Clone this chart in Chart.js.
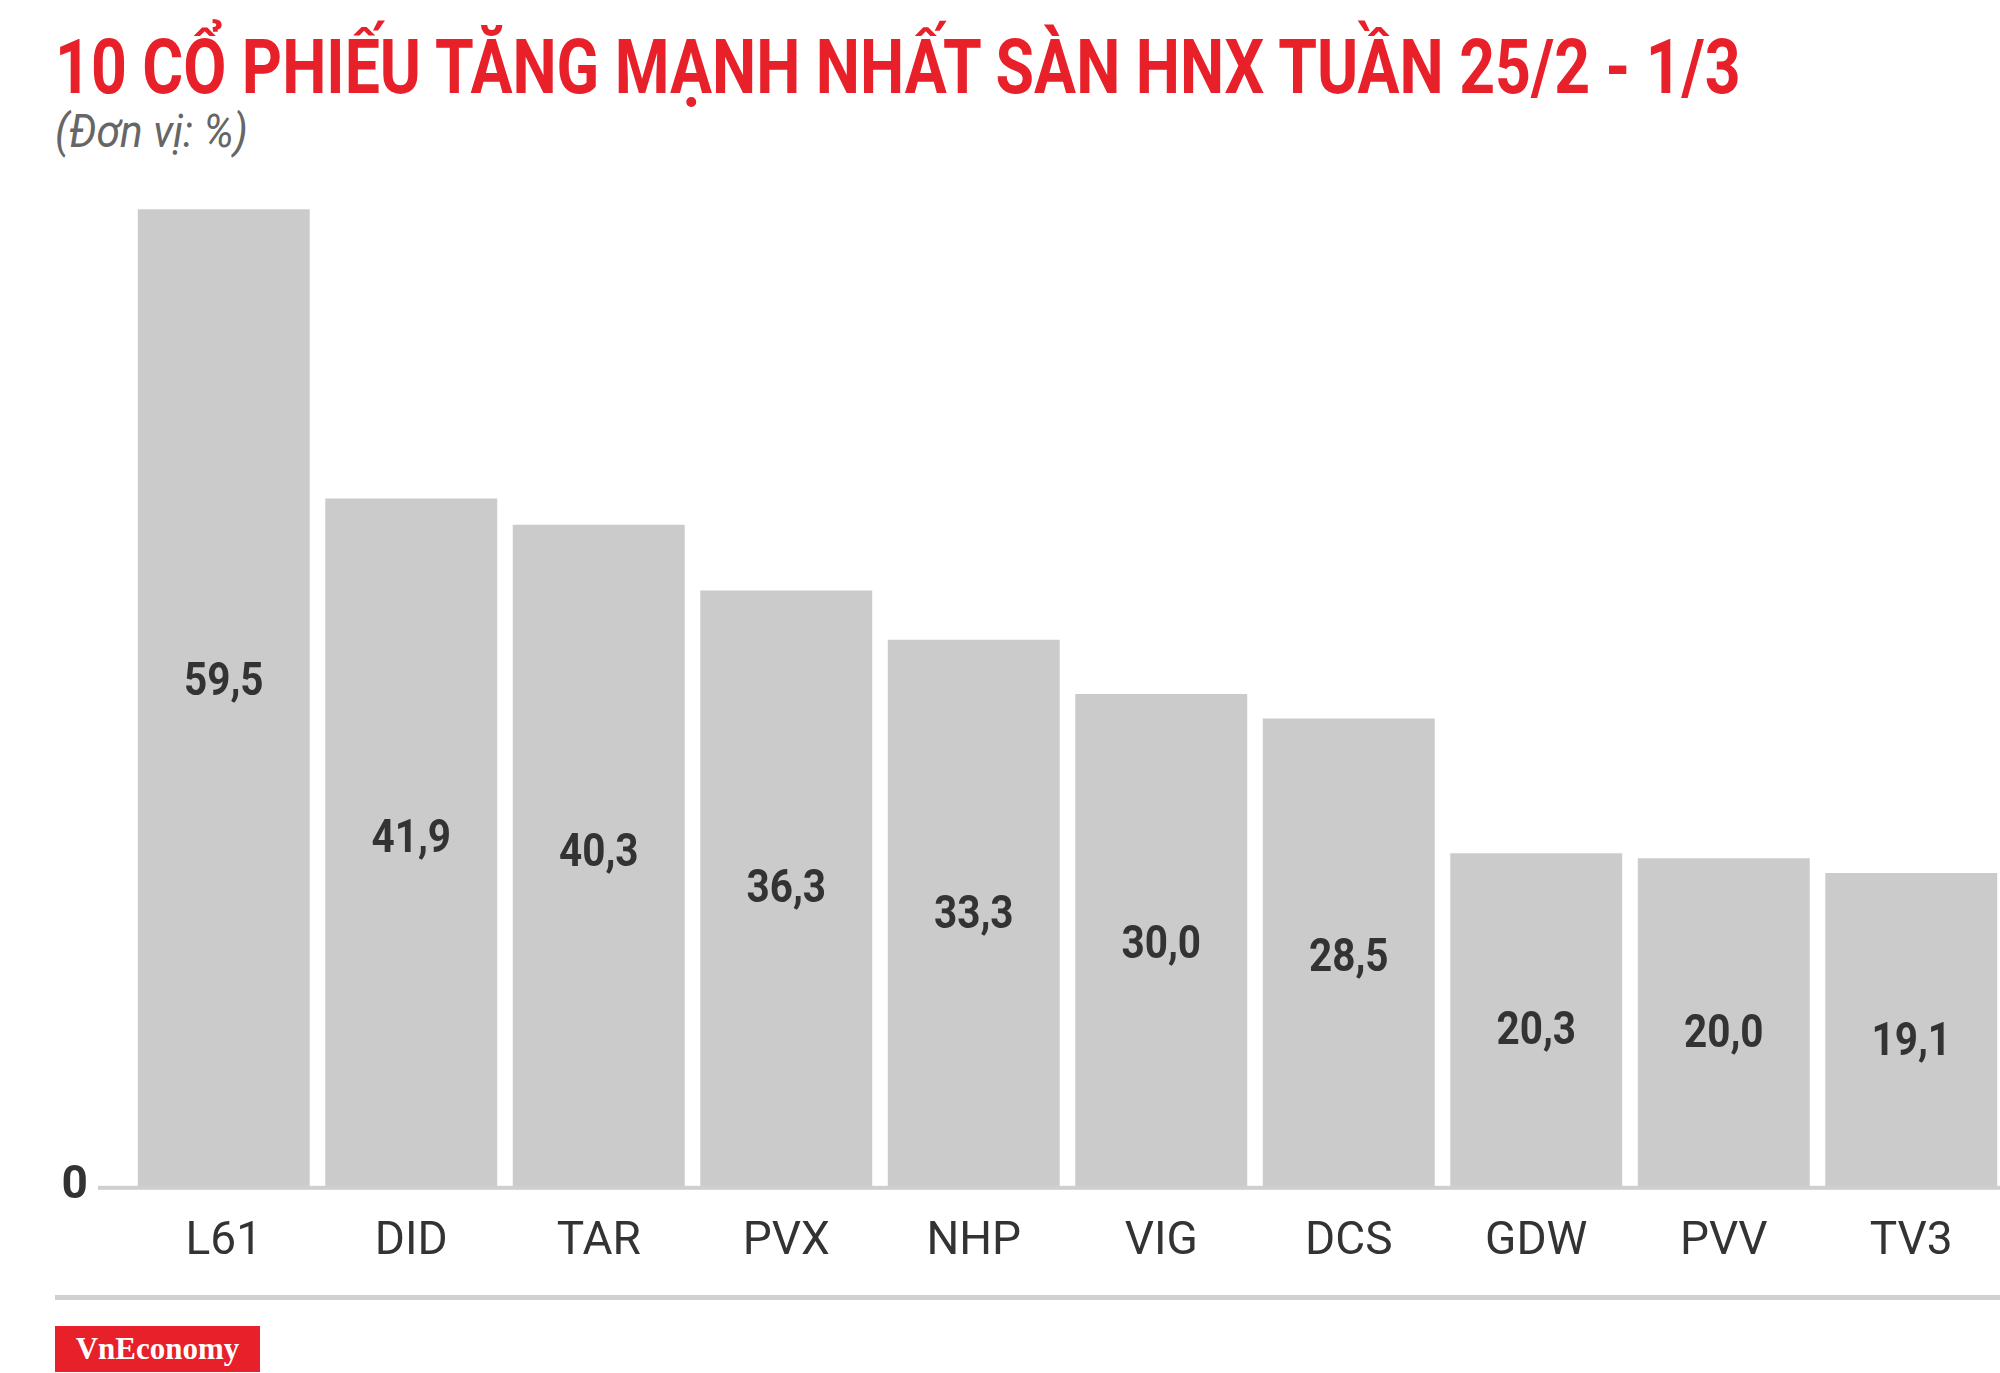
<!DOCTYPE html>
<html><head><meta charset="utf-8">
<script src="https://cdn.jsdelivr.net/npm/chart.js@4"></script>
<style>
body{margin:0;width:2000px;height:1373px;overflow:hidden;background:#fff;position:relative;font-family:"Liberation Sans Narrow","Roboto",sans-serif}
#title{position:absolute;left:55px;top:22px;font-size:76px;font-weight:bold;color:#e8202a;white-space:nowrap;transform-origin:left top}
#sub{position:absolute;left:55px;top:104px;font-size:46px;font-style:italic;color:#666;white-space:nowrap;transform-origin:left top;transform:scaleX(0.92)}
#rule{position:absolute;left:55px;top:1295px;width:1945px;height:5px;background:#d0d0d0}
#logo{position:absolute;left:55px;top:1326px;width:205px;height:46px;background:#e8202a;color:#fff;font:bold 31px "Liberation Serif","DejaVu Serif",serif;text-align:center;line-height:46px}
canvas{position:absolute;left:0;top:0}
</style></head><body>
<div id="title">10 CỔ PHIẾU TĂNG MẠNH NHẤT SÀN HNX TUẦN 25/2 - 1/3</div>
<div id="sub">(Đơn vị: %)</div>
<div id="rule"></div>
<div id="logo">VnEconomy</div>
<canvas id="c" width="2010" height="1373"></canvas>
<script>
const tickers = ['L61', 'DID', 'TAR', 'PVX', 'NHP', 'VIG', 'DCS', 'GDW', 'PVV', 'TV3'];
const gains = [59.5, 41.9, 40.3, 36.3, 33.3, 30.0, 28.5, 20.3, 20.0, 19.1];
const FONT = '"Liberation Sans Narrow", Roboto, sans-serif';

// squeeze the title to the reference width
const t = document.getElementById('title');
t.style.transform = 'scaleX(' + (1686 / t.scrollWidth) + ')';

// value labels + zero baseline
const extras = {
  id: 'extras',
  afterDatasetsDraw(chart) {
    const ctx = chart.ctx, y = chart.scales.y, meta = chart.getDatasetMeta(0);
    const y0 = y.getPixelForValue(0);
    ctx.save();
    ctx.fillStyle = '#cfcfcf';
    ctx.fillRect(98, y0 - 1, 1912, 4);
    ctx.fillStyle = '#333';
    ctx.font = 'bold 46px ' + FONT;
    ctx.textAlign = 'right';
    ctx.textBaseline = 'middle';
    ctx.fillText('0', 88, y0);
    ctx.textAlign = 'center';
    meta.data.forEach((bar, i) => {
      ctx.save();
      ctx.translate(bar.x, 0.542 * bar.y + 0.458 * (y0 + 58));
      ctx.scale(0.88, 1);
      ctx.fillText(gains[i].toFixed(1).replace('.', ','), 0, 0);
      ctx.restore();
    });
    ctx.restore();
  }
};

new Chart(document.getElementById('c'), {
  type: 'bar',
  data: {
    labels: tickers,
    datasets: [{ data: gains, backgroundColor: '#cccbcc', categoryPercentage: 1, barPercentage: 0.917 }]
  },
  options: {
    responsive: false, animation: false,
    layout: { padding: { left: 130, right: 5, top: 201, bottom: 83 } },
    plugins: { legend: { display: false }, tooltip: { enabled: false } },
    scales: {
      y: { display: false, min: 0, max: 60 },
      x: {
        grid: { display: false }, border: { display: false },
        ticks: { color: '#333', font: { size: 46, family: FONT }, padding: 20 }
      }
    }
  },
  plugins: [extras]
});
</script>
</body></html>
